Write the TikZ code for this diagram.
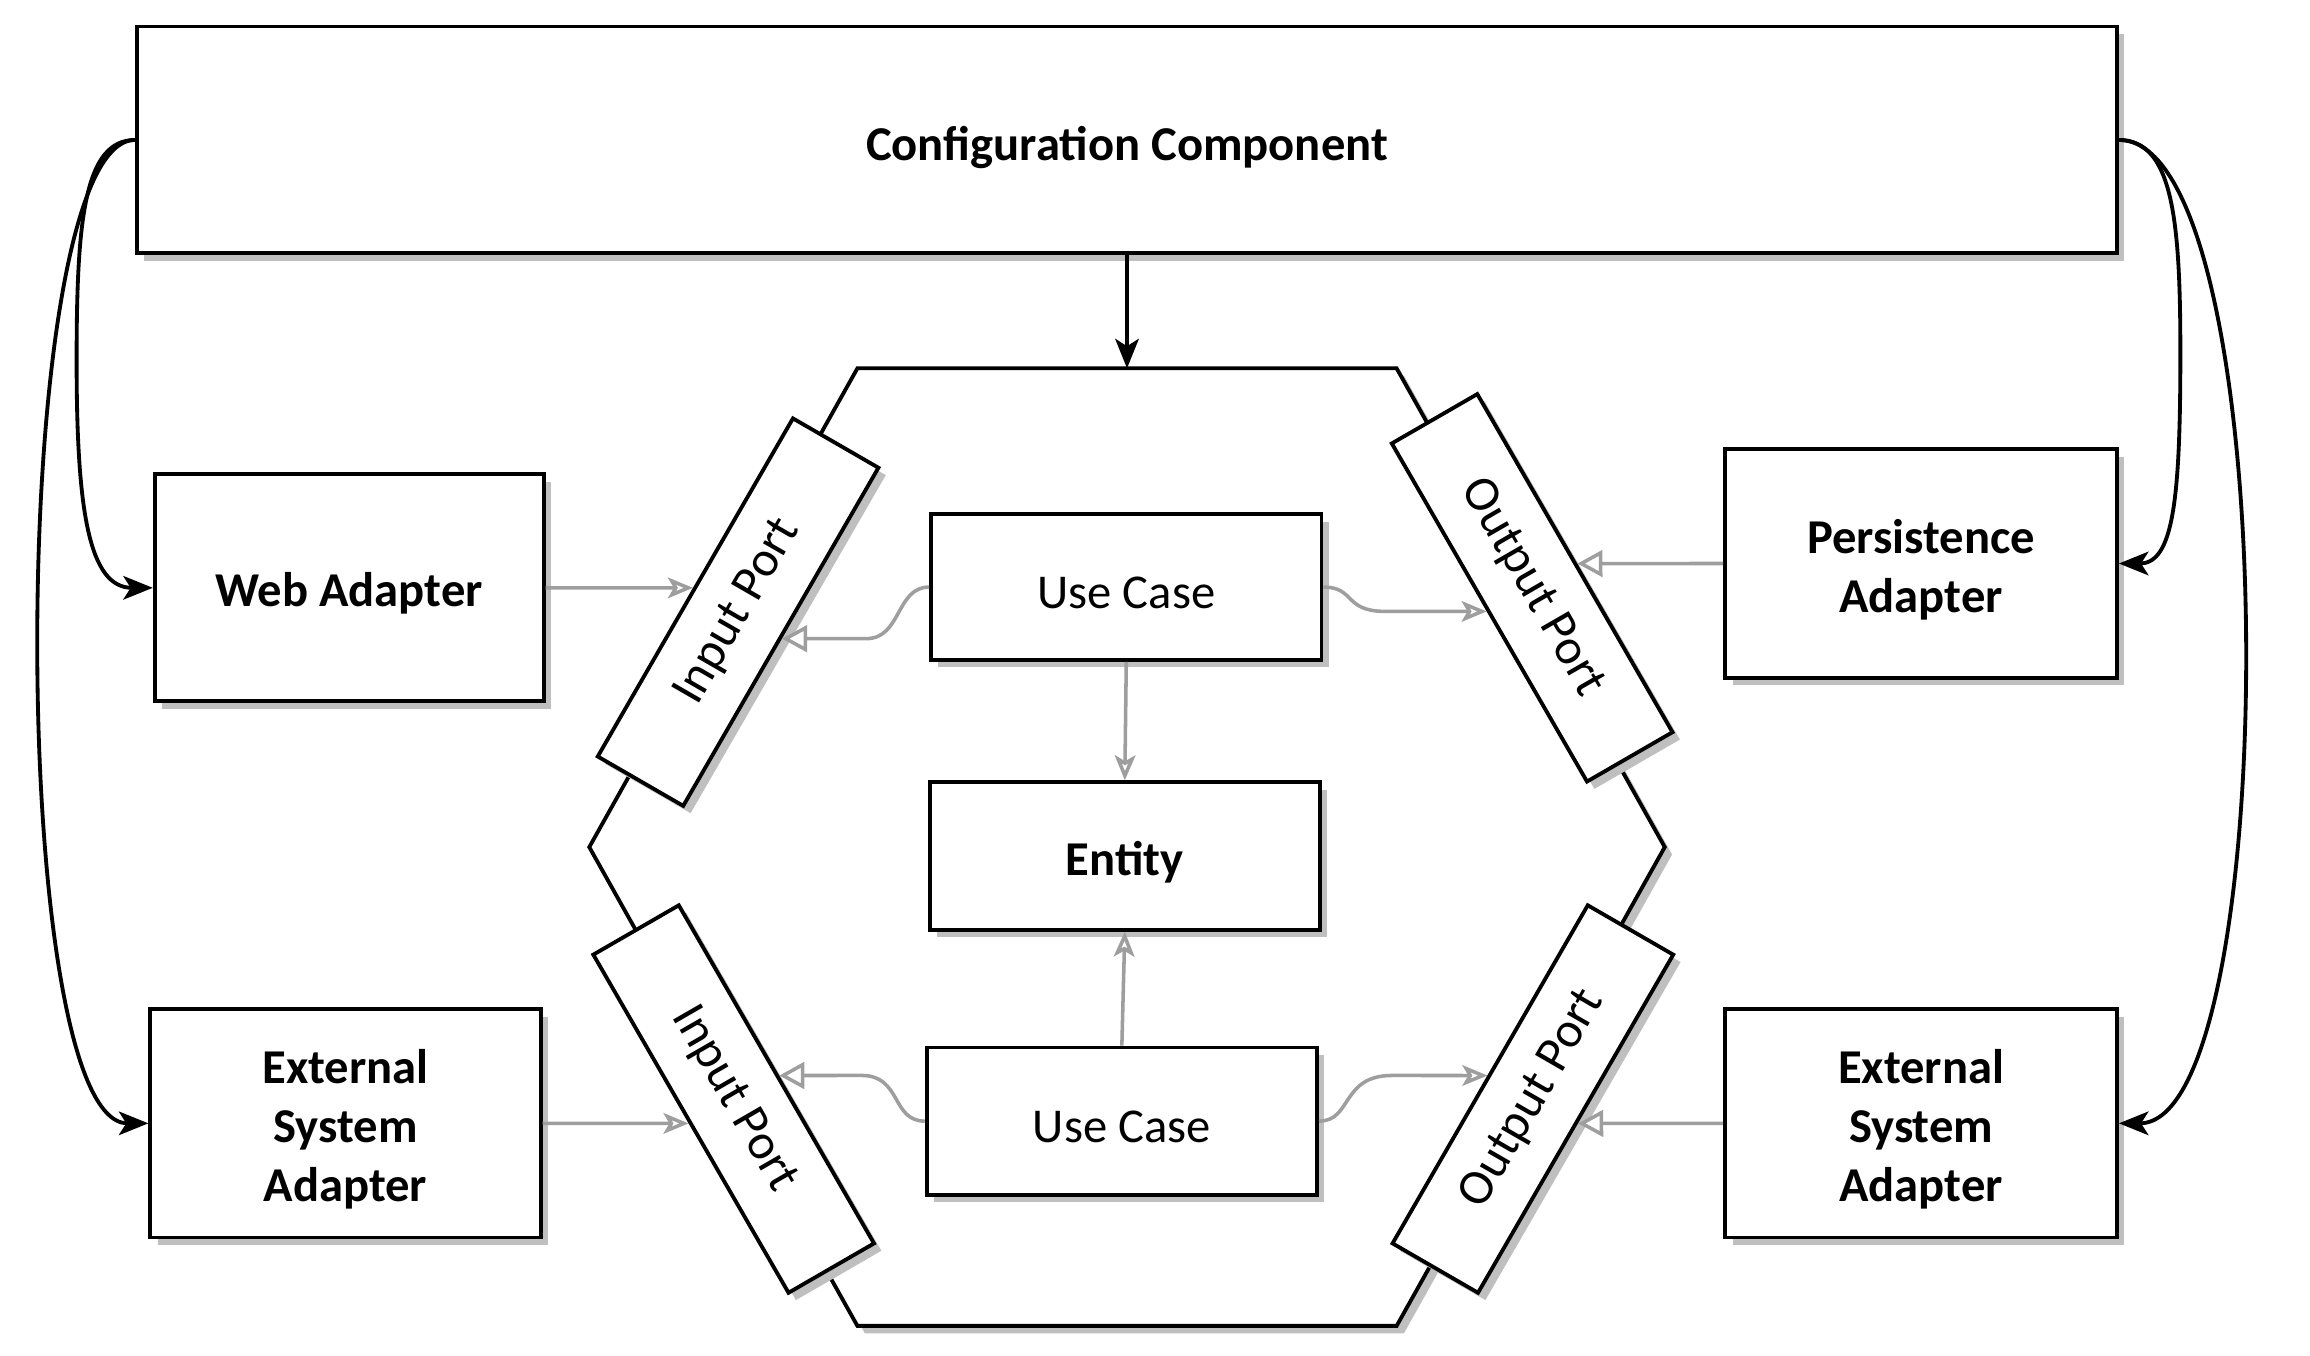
\documentclass[tikz,border=0pt]{standalone}
\usepackage{fontspec}
\setmainfont{Carlito}
\usetikzlibrary{arrows.meta,shadows}
\newcommand{\lowtxt}[1]{\raisebox{-4pt}[\height][\depth]{#1}}
\begin{document}
\begin{tikzpicture}[x=1pt,y=-1pt,
  shad/.style={drop shadow={shadow xshift=5pt,shadow yshift=-5pt,fill=black!25,opacity=1}},
  box/.style={shad,draw=black,line width=2.6pt,fill=white,inner sep=0pt,align=center,font=\fontsize{33}{40}\selectfont\bfseries},
  lightbox/.style={box,font=\fontsize{33}{40}\selectfont},
  port/.style={shad,draw=black,line width=2.6pt,fill=white,inner sep=0pt,minimum width=265pt,minimum height=67pt,font=\fontsize{34}{40}\selectfont},
  bconn/.style={draw=black,line width=2.6pt,-{Stealth[length=20pt,width=16pt,inset=5pt]}},
  gconn/.style={draw=black!38,line width=2.4pt},
  vhead/.style={-{Stealth[open,length=17pt,width=14pt,inset=4pt]}},
  thead/.style={-{Triangle[open,fill=white,length=17pt,width=18pt]}},
]
\useasboundingbox (0,0) rectangle (1568,920);

% hexagon
\draw[shad,line width=2.6pt,fill=white] (582,250) -- (948,250) -- (1130,575) -- (948,900) -- (582,900) -- (400,575) -- cycle;
\coordinate (hextop) at (765,250);

% ports
\node[port,rotate=60]  (ip1) at (501,415.5) {Input Port};
\node[port,rotate=-60] (op1) at (1040,399)  {Output Port};
\node[port,rotate=-60] (ip2) at (498,746)   {Input Port};
\node[port,rotate=60]  (op2) at (1040.5,746){Output Port};

% boxes
\node[box,minimum width=1344pt,minimum height=154pt] (cfg) at (765,95) {\raisebox{-5pt}[\height][\depth]{Configuration Component}};
\node[box,minimum width=264pt,minimum height=154pt] (wa) at (237,399) {\lowtxt{Web Adapter}};
\node[box,minimum width=265pt,minimum height=155pt] (esal) at (234.5,762.5) {\lowtxt{External}\\\lowtxt{System}\\\lowtxt{Adapter}};
\node[box,minimum width=266pt,minimum height=155pt] (pa) at (1304,382.5) {\lowtxt{Persistence}\\\lowtxt{Adapter}};
\node[box,minimum width=266pt,minimum height=155pt] (esar) at (1304,762.5) {\lowtxt{External}\\\lowtxt{System}\\\lowtxt{Adapter}};
\node[lightbox,minimum width=265pt,minimum height=99pt] (uc1) at (764.5,398.5) {\lowtxt{Use Case}};
\node[box,minimum width=265pt,minimum height=100pt] (ent) at (763.5,581) {\lowtxt{Entity}};
\node[lightbox,minimum width=265pt,minimum height=100pt] (uc2) at (761.5,761) {\lowtxt{Use Case}};

% helper lines for tips on the ports
\coordinate (ya1) at (0,399);   \coordinate (ya2) at (1568,399);
\coordinate (yb1) at (0,433.5); \coordinate (yb2) at (1568,433.5);
\coordinate (yc1) at (0,415);   \coordinate (yc2) at (1568,415);
\coordinate (yd1) at (0,382.5); \coordinate (yd2) at (1568,382.5);
\coordinate (ye1) at (0,762.5); \coordinate (ye2) at (1568,762.5);
\coordinate (yf1) at (0,730);   \coordinate (yf2) at (1568,730);
\coordinate (ip1n) at (intersection of ip1.north west--ip1.north east and ya1--ya2);
\coordinate (ip1s) at (intersection of ip1.south west--ip1.south east and yb1--yb2);
\coordinate (op1s) at (intersection of op1.south west--op1.south east and yc1--yc2);
\coordinate (op1n) at (intersection of op1.north west--op1.north east and yd1--yd2);
\coordinate (ip2s) at (intersection of ip2.south west--ip2.south east and ye1--ye2);
\coordinate (ip2n) at (intersection of ip2.north west--ip2.north east and yf1--yf2);
\coordinate (op2n) at (intersection of op2.north west--op2.north east and yf1--yf2);
\coordinate (op2s) at (intersection of op2.south west--op2.south east and ye1--ye2);

% gray connectors
\draw[gconn,vhead] (wa.east) -- (ip1n);
\draw[gconn,thead] (uc1.west) .. controls (608,398.5) and (612,433.5) .. (588,433.5) -- (ip1s);
\draw[gconn,vhead] (uc1.east) .. controls (920,398.5) and (912,415) .. (940,415) -- (op1s);
\draw[gconn,thead] (pa.west) -- (op1n);
\draw[gconn,vhead] (uc1.south) -- (ent.north);
\draw[gconn,vhead] (uc2.north) -- (ent.south);
\draw[gconn,thead] (uc2.west) .. controls (605,761) and (612,730) .. (585,730) -- (ip2n);
\draw[gconn,vhead] (uc2.east) .. controls (918,761) and (910,730) .. (945,730) -- (op2n);
\draw[gconn,vhead] (esal.east) -- (ip2s);
\draw[gconn,thead] (esar.west) -- (op2s);

% black connectors
\draw[bconn] (cfg.south) -- (hextop);
\draw[bconn] (cfg.west) .. controls (57,95) and (52,150) .. (52,245) .. controls (52,345) and (60,399) .. (wa.west);
\draw[bconn] (cfg.west) .. controls (4,95) and (4,762.5) .. (esal.west);
\draw[bconn] (cfg.east) .. controls (1475,95) and (1480,150) .. (1480,240) .. controls (1480,340) and (1475,382.5) .. (pa.east);
\draw[bconn] (cfg.east) .. controls (1551,95) and (1551,762.5) .. (esar.east);
\end{tikzpicture}
\end{document}
